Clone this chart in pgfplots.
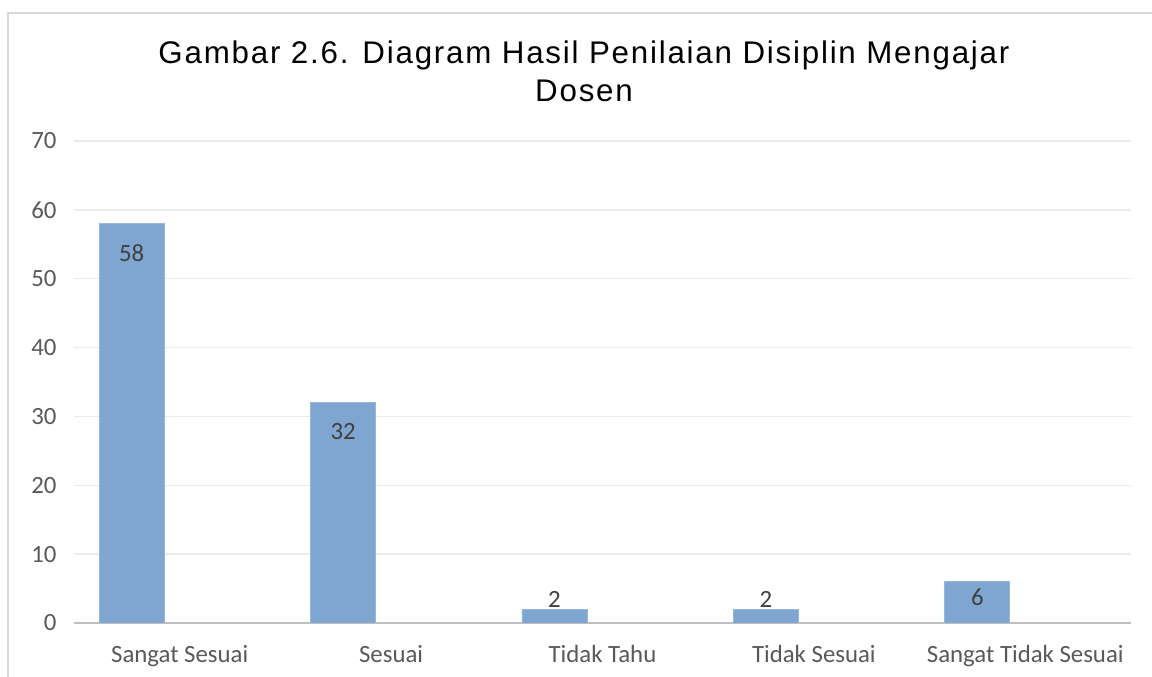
\documentclass[border=0pt]{standalone}
\usepackage{pgfplots}
\usepackage{pgfplotstable}
\pgfplotsset{compat=1.18}
\usepackage{fontspec}
\setmainfont{Carlito}
\newfontfamily\titlefont{Liberation Sans}[LetterSpace=5.7]
\definecolor{barblue}{HTML}{7FA6D0}
\definecolor{gridgray}{HTML}{EBEBEB}
\definecolor{axisgray}{HTML}{BFBFBF}
\definecolor{ticktext}{HTML}{595959}
\definecolor{labeltext}{HTML}{404040}
\definecolor{bordergray}{HTML}{D9D9D9}
\pgfplotstableread{
x y off
0 58 -29
1 32 -29
2 2 10
3 2 10
4 6 -16
}\datatable
\begin{document}
\begin{tikzpicture}
\useasboundingbox (0,0) rectangle (1152pt,677pt);
\fill[white] (0,0) rectangle (1152pt,677pt);
\draw[bordergray, line width=2pt] (8pt,0pt) -- (8pt,664pt) -- (1152pt,664pt);
\node[anchor=base, inner sep=0pt] at (584pt,613pt) {\titlefont\fontsize{31.3}{38}\selectfont Gambar 2.6. Diagram Hasil Penilaian Disiplin Mengajar};
\node[anchor=base, inner sep=0pt] at (584pt,575pt) {\titlefont\fontsize{31.3}{38}\selectfont Dosen};
\begin{axis}[
  at={(74pt,54pt)}, anchor=south west,
  scale only axis, width=1057pt, height=482pt,
  xmin=-0.5, xmax=4.5, ymin=0, ymax=70,
  ytick={0,10,...,70},
  xtick={0,1,2,3,4},
  xticklabels={Sangat Sesuai, Sesuai, Tidak Tahu, Tidak Sesuai, Sangat Tidak Sesuai},
  axis line style={draw=none},
  major tick length=0pt,
  ymajorgrids,
  major grid style={gridgray, line width=1.5pt},
  extra y ticks={0},
  extra y tick labels={},
  extra y tick style={grid=major, major grid style={axisgray, line width=2.8pt}},
  ticklabel style={ticktext, font=\fontsize{24.8}{29}\selectfont},
  /pgf/number format/assume math mode=true,
  yticklabel style={anchor=east, xshift=-14pt},
  xticklabel style={anchor=north, yshift=-19pt},
  ybar, bar width=65pt, bar shift=-48pt,
  visualization depends on={\thisrow{off} \as \off},
  nodes near coords,
  every node near coord/.append style={anchor=center, yshift=\off pt, labeltext, font=\fontsize{24.8}{29}\selectfont, /pgf/number format/assume math mode=true},
]
\addplot[fill=barblue, draw=barblue!80!white, line width=0.8pt] table[x=x, y=y] {\datatable};
\end{axis}
\end{tikzpicture}
\end{document}
